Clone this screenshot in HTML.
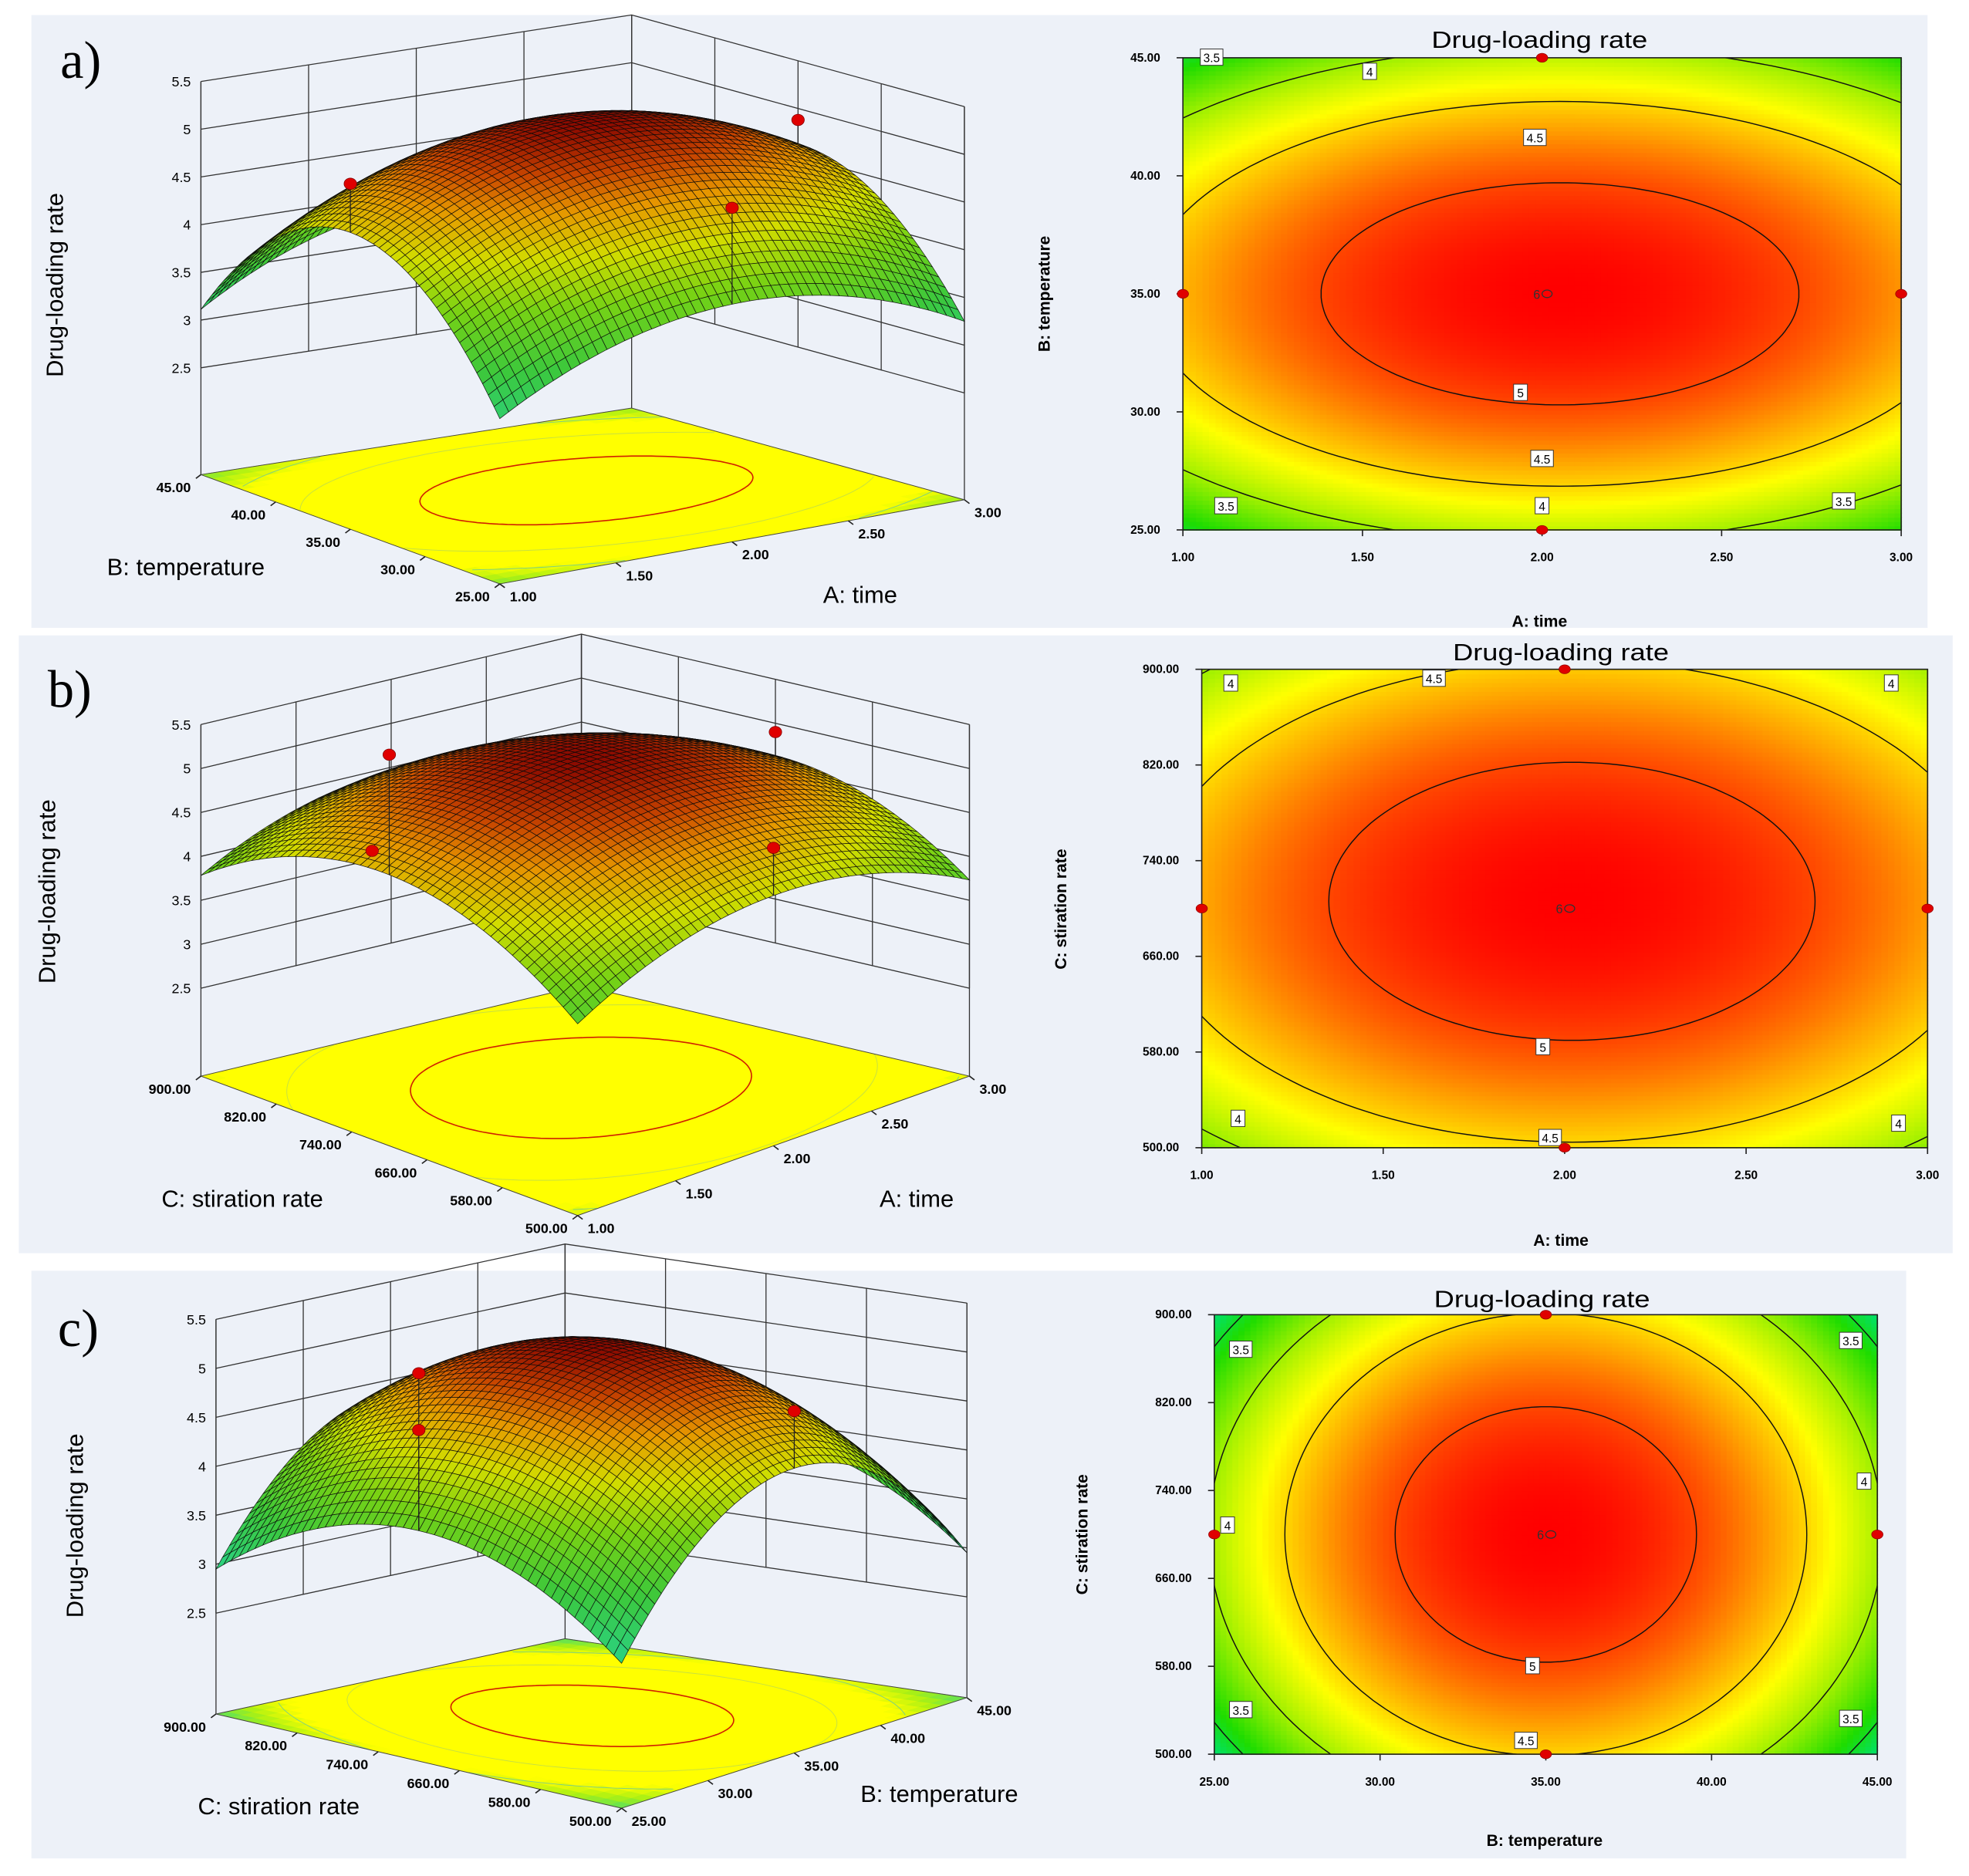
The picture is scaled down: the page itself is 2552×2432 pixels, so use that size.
<!DOCTYPE html>
<html><head><meta charset="utf-8">
<style>
html,body{margin:0;padding:0;background:#fff;}
svg{display:block;}
text{font-family:"Liberation Sans",sans-serif;}
</style></head>
<body>
<svg id="fig" xmlns="http://www.w3.org/2000/svg" width="2552" height="2432" viewBox="0 0 1568 1494" preserveAspectRatio="none">
<rect x="25" y="12" width="1510" height="488" fill="#edf1f8"/>
<rect x="15" y="506" width="1540" height="492" fill="#edf1f8"/>
<rect x="25" y="1012" width="1493" height="468" fill="#edf1f8"/>
<text x="48" y="62" font-size="42" style="font-family:'Liberation Serif',serif">a)</text>
<text x="38" y="563" font-size="42" style="font-family:'Liberation Serif',serif">b)</text>
<text x="46" y="1072" font-size="42" style="font-family:'Liberation Serif',serif">c)</text>
</svg>
<script>
// ---- data (fitted quadratic models, coded units) ----
const modelB0 = [5.25, 5.25, 5.25];
const quadU = [0.565, 0.557, 1.21];
const quadV = [1.13, 0.74, 0.74];
const centerU = [0.05, 0.02, 0.0];
const centerV = [0.0, 0.03, 0.0];
const surfaceCurvature = [1.22, 1.15, 1.18];
const contourLevels = [3.5, 4, 4.5, 5];
const zTicks = [2.5, 3, 3.5, 4, 4.5, 5, 5.5];
const zTickLabels = ["2.5", "3", "3.5", "4", "4.5", "5", "5.5"];
const uTickLabelsA = ["1.00", "1.50", "2.00", "2.50", "3.00"];
const vTickLabelsA = ["25.00", "30.00", "35.00", "40.00", "45.00"];
const uTickLabelsB = ["1.00", "1.50", "2.00", "2.50", "3.00"];
const vTickLabelsB = ["500.00", "580.00", "660.00", "740.00", "820.00", "900.00"];
const uTickLabelsC = ["25.00", "30.00", "35.00", "40.00", "45.00"];
const vTickLabelsC = ["500.00", "580.00", "660.00", "740.00", "820.00", "900.00"];
const uAxisTitles = ["A: time", "A: time", "B: temperature"];
const vAxisTitles = ["B: temperature", "C: stiration rate", "C: stiration rate"];
const pts2dU = [0.5, 0, 1, 0.5];
const pts2dV = [1, 0.5, 0.5, 0];
const pts3dA = [[0, 0.5, 5.0], [1, 0.5, 4.88], [0.5, 0, 4.88]];
const pts3dB = [[0, 0.5, 5.95], [1, 0.5, 4.9], [0.5, 0, 4.89], [0.45, 1, 3.6]];
const pts3dC = [[0, 0.5, 5.43], [0, 0.5, 4.85], [0.5, 0, 4.96]];
const labelsA = [[0.04,1.0,"3.5"],[0.26,0.97,"4"],[0.49,0.83,"4.5"],[0.47,0.29,"5"],[0.5,0.15,"4.5"],[0.5,0.05,"4"],[0.06,0.05,"3.5"],[0.92,0.06,"3.5"]];
const labelsB = [[0.04,0.97,"4"],[0.32,0.98,"4.5"],[0.95,0.97,"4"],[0.47,0.21,"5"],[0.05,0.06,"4"],[0.48,0.02,"4.5"],[0.96,0.05,"4"]];
const labelsC = [[0.04,0.92,"3.5"],[0.96,0.94,"3.5"],[0.02,0.52,"4"],[0.98,0.62,"4"],[0.48,0.2,"5"],[0.04,0.1,"3.5"],[0.96,0.08,"3.5"],[0.47,0.03,"4.5"]];

const NS = "http://www.w3.org/2000/svg";
const svg = document.getElementById('fig');
function mk(tag, attrs, parent) {
  const e = document.createElementNS(NS, tag);
  for (const k in attrs) e.setAttribute(k, attrs[k]);
  (parent || svg).appendChild(e);
  return e;
}
function resp(i, u, v) {
  const cu = (u * 2 - 1) - centerU[i], cv = (v * 2 - 1) - centerV[i];
  return modelB0[i] - quadU[i] * cu * cu - quadV[i] * cv * cv;
}
function resp3d(i, u, v) {
  return modelB0[i] - (modelB0[i] - resp(i, u, v)) * surfaceCurvature[i];
}
function lerpColor(stops, z) {
  if (z <= stops[0][0]) return 'rgb(' + stops[0][1].join(',') + ')';
  for (let k = 1; k < stops.length; k++) {
    if (z <= stops[k][0]) {
      const t = (z - stops[k-1][0]) / (stops[k][0] - stops[k-1][0]);
      const a = stops[k-1][1], b = stops[k][1];
      return 'rgb(' + a.map((c, j) => Math.round(c + (b[j] - c) * t)).join(',') + ')';
    }
  }
  return 'rgb(' + stops[stops.length-1][1].join(',') + ')';
}
const heatStops = [[3.3,[0,225,110]],[3.6,[30,220,0]],[4.0,[160,240,0]],[4.35,[255,255,0]],[4.7,[255,160,0]],[5.0,[255,70,0]],[5.25,[255,0,0]]];
const surfStops = [[2.9,[40,210,140]],[3.5,[60,200,60]],[4.0,[120,210,20]],[4.4,[210,220,0]],[4.75,[230,150,0]],[5.0,[200,70,0]],[5.25,[140,10,0]]];
const floorStops = [[3.2,[60,220,120]],[3.7,[170,240,20]],[4.1,[255,255,0]],[6,[255,255,0]]];

// ---------- 2D contour plots ----------
const plots2d = [
  {x0:942,x1:1514,y0:46,y1:422, ul:uTickLabelsA, vl:vTickLabelsA, title:[1226,38], xt:[1226,499], yt:[836,234], labels:labelsA},
  {x0:957,x1:1535,y0:533,y1:914, ul:uTickLabelsB, vl:vTickLabelsB, title:[1243,526], xt:[1243,992], yt:[849,724], labels:labelsB},
  {x0:967,x1:1495,y0:1047,y1:1397, ul:uTickLabelsC, vl:vTickLabelsC, title:[1228,1041], xt:[1230,1470], yt:[866,1222], labels:labelsC}
];
const pn = ['a','b','c'];
plots2d.forEach((p, i) => {
  const g = mk('g', {});
  
  
  const W = p.x1 - p.x0, H = p.y1 - p.y0;
  const sx = u => p.x0 + u * W, sy = v => p.y1 - v * H;
  const N = 110;
  const hm = mk('g', {}, g);
  
  
  for (let a = 0; a < N; a++) for (let b = 0; b < N; b++) {
    const u = (a + 0.5) / N, v = (b + 0.5) / N;
    const c = lerpColor(heatStops, resp(i, u, v));
    const r = mk('rect', {x: sx(a / N).toFixed(1), y: sy((b + 1) / N).toFixed(1), width: (W / N + 0.6).toFixed(2), height: (H / N + 0.6).toFixed(2), fill: c}, hm);
  }
  const cid = 'clip' + i;
  const cp = mk('clipPath', {id: cid}, g);
  mk('rect', {x: p.x0, y: p.y0, width: W, height: H}, cp);
  contourLevels.forEach(L => {
    const d0 = modelB0[i] - L;
    const ru = Math.sqrt(d0 / quadU[i]) / 2, rv = Math.sqrt(d0 / quadV[i]) / 2;
    const cu = (centerU[i] + 1) / 2, cv = (centerV[i] + 1) / 2;
    let d = '';
    for (let t = 0; t <= 200; t++) {
      const th = t / 200 * Math.PI * 2;
      d += (t ? 'L' : 'M') + sx(cu + ru * Math.cos(th)).toFixed(1) + ',' + sy(cv + rv * Math.sin(th)).toFixed(1);
    }
    const pe = mk('path', {d: d, fill: 'none', stroke: '#111', 'stroke-width': 0.9, 'clip-path': 'url(#' + cid + ')'}, g);
    
    
  });
  mk('rect', {x: p.x0, y: p.y0, width: W, height: H, fill: 'none', stroke: '#222', 'stroke-width': 1}, g);
  p.ul.forEach((t, k) => {
    const x = sx(k / (p.ul.length - 1));
    mk('line', {x1: x, x2: x, y1: p.y1, y2: p.y1 + 5, stroke: '#222'}, g);
    const tx = mk('text', {x: x, y: p.y1 + 25, 'font-size': 9.5, 'font-weight': 'bold', 'text-anchor': 'middle'}, g);
    tx.textContent = t;
    
    
  });
  p.vl.forEach((t, k) => {
    const y = sy(k / (p.vl.length - 1));
    mk('line', {x1: p.x0 - 5, x2: p.x0, y1: y, y2: y, stroke: '#222'}, g);
    const tx = mk('text', {x: p.x0 - 18, y: y + 3, 'font-size': 9.5, 'font-weight': 'bold', 'text-anchor': 'end'}, g);
    tx.textContent = t;
    
    
  });
  p.labels.forEach(l => {
    const x = sx(l[0]), y = sy(l[1]);
    const w = l[2].length > 1 ? 18 : 11;
    mk('rect', {x: x - w / 2, y: y - 7, width: w, height: 13, fill: '#fff', stroke: '#333', 'stroke-width': 0.6}, g);
    const tx = mk('text', {x: x, y: y + 3.5, 'font-size': 9.5, 'text-anchor': 'middle'}, g);
    tx.textContent = l[2];
    
    
  });
  pts2dU.forEach((u, k) => {
    const c = mk('ellipse', {cx: sx(u), cy: sy(pts2dV[k]), rx: 4.5, ry: 3.5, fill: '#e00000', stroke: '#900', 'stroke-width': 0.5}, g);
    
    
  });
  const cx = sx(0.5), cy = sy(0.5);
  const t6 = mk('text', {x: cx - 7, y: cy + 4, 'font-size': 10, fill: '#333'}, g);
  t6.textContent = '6';
  mk('ellipse', {cx: cx + 4, cy: cy, rx: 4, ry: 3, fill: 'none', stroke: '#333', 'stroke-width': 0.8}, g);
  const tt = mk('text', {x: p.title[0], y: p.title[1], 'font-size': 19, 'text-anchor': 'middle', textLength: 172, lengthAdjust: 'spacingAndGlyphs'}, g);
  tt.textContent = 'Drug-loading rate';
  
  
  const xt = mk('text', {x: p.xt[0], y: p.xt[1], 'font-size': 13, 'font-weight': 'bold', 'text-anchor': 'middle'}, g);
  xt.textContent = uAxisTitles[i];
  
  
  const yt = mk('text', {x: p.yt[0], y: p.yt[1], 'font-size': 13, 'font-weight': 'bold', 'text-anchor': 'middle', transform: 'rotate(-90 ' + p.yt[0] + ' ' + p.yt[1] + ')'}, g);
  yt.textContent = vAxisTitles[i];
  
  
});

// ---------- 3D surface plots ----------
const plots3d = [
  {P00:[398,465],P10:[768,398],P01:[160,378],P11:[503,325],k:76,zf:1.38, pts:pts3dA, ul:uTickLabelsA, vl:vTickLabelsA, ztitle:[50,227], ut:[685,480], vt:[148,458]},
  {P00:[460,968],P10:[772,857],P01:[160,857],P11:[463,785],k:70,zf:1.5, pts:pts3dB, ul:uTickLabelsB, vl:vTickLabelsB, ztitle:[44,710], ut:[730,961], vt:[193,961]},
  {P00:[495,1440],P10:[770,1352],P01:[172,1365],P11:[450,1305],k:78,zf:1.47, pts:pts3dC, ul:uTickLabelsC, vl:vTickLabelsC, ztitle:[66,1215], ut:[748,1435], vt:[222,1445]}
];
plots3d.forEach((p, i) => {
  const g = mk('g', {});
  
  
  const base = (u, v) => [
    (1-u)*(1-v)*p.P00[0] + u*(1-v)*p.P10[0] + (1-u)*v*p.P01[0] + u*v*p.P11[0],
    (1-u)*(1-v)*p.P00[1] + u*(1-v)*p.P10[1] + (1-u)*v*p.P01[1] + u*v*p.P11[1]];
  const proj = (u, v, z) => { const b = base(u, v); return [b[0], b[1] - (z - p.zf) * p.k]; };
  const pt = a => a[0].toFixed(1) + ',' + a[1].toFixed(1);
  const zlo = zTicks[0], zhi = zTicks[zTicks.length - 1];
  const wall = mk('g', {stroke: '#333', 'stroke-width': 0.8, fill: 'none'}, g);
  
  
  for (let k = 0; k <= 4; k++) {
    const s = k / 4;
    mk('line', {x1: proj(s,1,zlo)[0], y1: proj(s,1,zlo)[1], x2: proj(s,1,zhi)[0], y2: proj(s,1,zhi)[1]}, wall);
    mk('line', {x1: proj(1,s,zlo)[0], y1: proj(1,s,zlo)[1], x2: proj(1,s,zhi)[0], y2: proj(1,s,zhi)[1]}, wall);
  }
  zTicks.forEach(z => {
    mk('polyline', {points: pt(proj(0,1,z)) + ' ' + pt(proj(1,1,z)) + ' ' + pt(proj(1,0,z))}, wall);
  });
  [[0,1],[1,1],[1,0]].forEach(c => {
    mk('line', {x1: proj(c[0],c[1],p.zf)[0], y1: proj(c[0],c[1],p.zf)[1], x2: proj(c[0],c[1],zhi)[0], y2: proj(c[0],c[1],zhi)[1]}, wall);
  });
  zTicks.forEach((z, k) => {
    const q = proj(0, 1, z);
    const t = mk('text', {x: q[0] - 8, y: q[1] + 4, 'font-size': 11, 'text-anchor': 'end'}, g);
    t.textContent = zTickLabels[k];
    
    
  });
  const fl = mk('g', {}, g);
  
  
  const NF = 30;
  for (let a = 0; a < NF; a++) for (let b = 0; b < NF; b++) {
    const u0 = a/NF, u1 = (a+1)/NF, v0 = b/NF, v1 = (b+1)/NF;
    const c = lerpColor(floorStops, resp(i, (u0+u1)/2, (v0+v1)/2));
    mk('polygon', {points: [base(u0,v0),base(u1,v0),base(u1,v1),base(u0,v1)].map(pt).join(' '), fill: c, stroke: c, 'stroke-width': 0.5}, fl);
  }
  [[5,'#d02000',1],[4.5,'#c8e040',0.6],[4,'#80d080',0.6]].forEach(L => {
    const d0 = modelB0[i] - L[0];
    const ru = Math.sqrt(d0 / quadU[i]) / 2, rv = Math.sqrt(d0 / quadV[i]) / 2;
    const cu = (centerU[i] + 1) / 2, cv = (centerV[i] + 1) / 2;
    let d = '', started = false;
    for (let t = 0; t <= 200; t++) {
      const th = t / 200 * Math.PI * 2;
      const u = cu + ru * Math.cos(th), v = cv + rv * Math.sin(th);
      if (u < 0 || u > 1 || v < 0 || v > 1) { started = false; continue; }
      d += (started ? 'L' : 'M') + pt(base(u, v)); started = true;
    }
    mk('path', {d: d, fill: 'none', stroke: L[1], 'stroke-width': L[2]}, fl);
  });
  mk('polygon', {points: [base(0,0),base(1,0),base(1,1),base(0,1)].map(pt).join(' '), fill: 'none', stroke: '#444', 'stroke-width': 0.6}, fl);
  p.ul.forEach((t, k) => {
    const q = base(k / (p.ul.length - 1), 0);
    mk('line', {x1: q[0], y1: q[1], x2: q[0] + 4, y2: q[1] + 3, stroke: '#222'}, g);
    const tx = mk('text', {x: q[0] + 8, y: q[1] + 14, 'font-size': 11, 'font-weight': 'bold'}, g);
    tx.textContent = t;
    
    
  });
  p.vl.forEach((t, k) => {
    const q = base(0, k / (p.vl.length - 1));
    mk('line', {x1: q[0], y1: q[1], x2: q[0] - 4, y2: q[1] + 3, stroke: '#222'}, g);
    const tx = mk('text', {x: q[0] - 8, y: q[1] + 14, 'font-size': 11, 'font-weight': 'bold', 'text-anchor': 'end'}, g);
    tx.textContent = t;
    
    
  });
  const sf = mk('g', {stroke: '#0a0a0a', 'stroke-width': 0.45, 'stroke-opacity': 0.9}, g);
  
  
  const NS2 = 52, cells = [];
  for (let a = 0; a < NS2; a++) for (let b = 0; b < NS2; b++) cells.push([a, b]);
  cells.sort((c1, c2) => (c2[0] + c2[1]) - (c1[0] + c1[1]));
  cells.forEach(c => {
    const u0 = c[0]/NS2, u1 = (c[0]+1)/NS2, v0 = c[1]/NS2, v1 = (c[1]+1)/NS2;
    const col = lerpColor(surfStops, resp3d(i, (u0+u1)/2, (v0+v1)/2));
    mk('polygon', {points: [proj(u0,v0,resp3d(i,u0,v0)),proj(u1,v0,resp3d(i,u1,v0)),proj(u1,v1,resp3d(i,u1,v1)),proj(u0,v1,resp3d(i,u0,v1))].map(pt).join(' '), fill: col}, sf);
  });
  p.pts.forEach(d => {
    const q = proj(d[0], d[1], d[2]), m = resp3d(i, d[0], d[1]), s = proj(d[0], d[1], m);
    if (d[2] > m) mk('line', {x1: q[0], y1: q[1], x2: s[0], y2: s[1], stroke: '#222', 'stroke-width': 0.8}, g);
    const e = mk('ellipse', {cx: q[0], cy: q[1], rx: 5, ry: 4.5, fill: '#e00000', stroke: '#800', 'stroke-width': 0.5}, g);
    
    
  });
  const zt = mk('text', {x: p.ztitle[0], y: p.ztitle[1], 'font-size': 19, 'text-anchor': 'middle', transform: 'rotate(-90 ' + p.ztitle[0] + ' ' + p.ztitle[1] + ')'}, g);
  zt.textContent = 'Drug-loading rate';
  
  
  const ut = mk('text', {x: p.ut[0], y: p.ut[1], 'font-size': 19, 'text-anchor': 'middle'}, g);
  ut.textContent = uAxisTitles[i];
  
  
  const vt = mk('text', {x: p.vt[0], y: p.vt[1], 'font-size': 19, 'text-anchor': 'middle'}, g);
  vt.textContent = vAxisTitles[i];
  
  
});
</script>
</body></html>
